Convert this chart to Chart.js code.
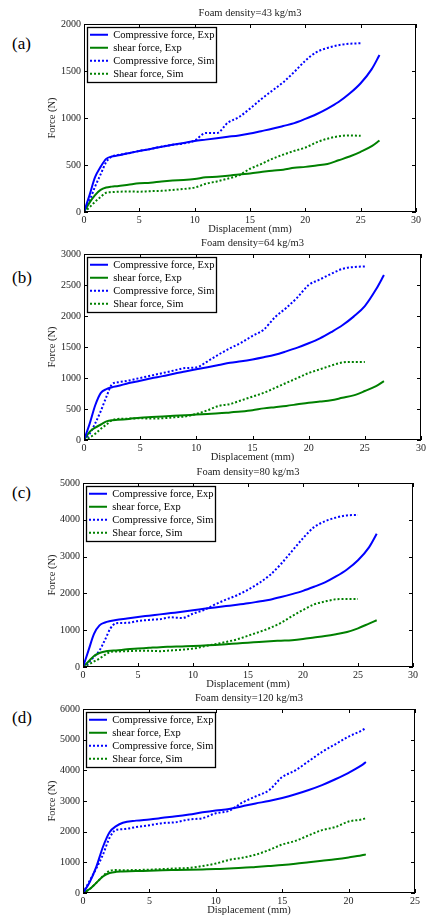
<!DOCTYPE html>
<html>
<head>
<meta charset="utf-8">
<script src="https://cdn.jsdelivr.net/npm/chart.js@4"></script>
<style>
body{margin:0;background:#fff;width:429px;height:916px;position:relative;overflow:hidden;font-family:"Liberation Serif",serif}
canvas{position:absolute;left:0}
.tag{position:absolute;left:12px;font-size:17px;line-height:20px;color:#000}
</style>
</head>
<body>
<div class="tag" style="top:34px">(a)</div>
<div class="tag" style="top:268px">(b)</div>
<div class="tag" style="top:483px">(c)</div>
<div class="tag" style="top:708px">(d)</div>
<canvas id="ca"></canvas>
<canvas id="cb"></canvas>
<canvas id="cc"></canvas>
<canvas id="cd"></canvas>
<script>
// displacement (mm) sample points
const dispExp = [0, 0.5, 1, 1.5, 2, 2.5, 3, 4, 5, 6, 7, 8, 9, 10, 11, 12, 13, 14, 15, 16, 17, 18, 19, 20, 21, 22, 23, 24, 25, 26, 26.7];
const dispSim = [0, 0.5, 1, 1.5, 2, 2.5, 3, 4, 5, 6, 7, 8, 9, 10, 11, 12, 13, 14, 15, 16, 17, 18, 19, 20, 21, 22, 23, 24, 25];
const dispD = [0, 0.5, 1, 1.5, 2, 2.5, 3, 4, 5, 6, 7, 8, 9, 10, 11, 12, 13, 14, 15, 16, 17, 18, 19, 20, 21, 21.3];

// (a) 43 kg/m3
const compExpA = [0, 180, 370, 480, 565, 590, 600, 625, 650, 670, 695, 715, 735, 755, 770, 785, 800, 815, 835, 860, 885, 915, 945, 990, 1040, 1100, 1170, 1260, 1370, 1520, 1670];
const shearExpA = [0, 100, 180, 235, 260, 270, 275, 290, 305, 310, 325, 335, 340, 350, 370, 375, 385, 400, 410, 425, 440, 450, 470, 480, 495, 510, 550, 590, 640, 700, 760];
const compSimA = [0, 120, 270, 400, 530, 590, 605, 625, 650, 670, 695, 715, 730, 760, 840, 840, 950, 1010, 1100, 1200, 1290, 1380, 1490, 1610, 1700, 1745, 1775, 1790, 1795];
const shearSimA = [0, 50, 110, 160, 205, 212, 215, 218, 216, 222, 225, 235, 245, 260, 300, 325, 355, 390, 460, 510, 565, 610, 650, 685, 740, 780, 805, 815, 810];

// (b) 64 kg/m3
const compExpB = [0, 260, 560, 760, 820, 850, 870, 920, 955, 995, 1030, 1070, 1105, 1140, 1175, 1210, 1245, 1270, 1300, 1335, 1375, 1430, 1490, 1560, 1640, 1740, 1850, 1990, 2160, 2430, 2660];
const shearExpB = [0, 130, 200, 250, 300, 320, 325, 340, 360, 370, 380, 390, 400, 410, 420, 430, 445, 460, 480, 510, 530, 550, 575, 600, 620, 640, 680, 720, 790, 870, 950];
const compSimB = [0, 100, 270, 470, 700, 900, 930, 960, 1000, 1040, 1080, 1120, 1160, 1170, 1270, 1380, 1480, 1570, 1680, 1780, 1980, 2130, 2300, 2500, 2590, 2680, 2760, 2790, 2800];
const shearSimB = [0, 40, 100, 180, 250, 320, 340, 345, 350, 345, 350, 365, 380, 420, 480, 550, 580, 640, 700, 760, 840, 920, 1000, 1080, 1140, 1200, 1250, 1260, 1260];

// (c) 80 kg/m3
const compExpC = [0, 450, 900, 1130, 1210, 1250, 1280, 1320, 1360, 1395, 1430, 1465, 1500, 1540, 1580, 1620, 1655, 1690, 1730, 1780, 1830, 1900, 1980, 2070, 2180, 2300, 2460, 2650, 2900, 3250, 3620];
const shearExpC = [0, 150, 300, 380, 420, 440, 450, 480, 500, 520, 540, 550, 560, 570, 585, 600, 620, 640, 660, 680, 700, 715, 730, 760, 800, 840, 890, 950, 1050, 1180, 1270];
const compSimC = [0, 120, 280, 450, 740, 1050, 1190, 1200, 1250, 1280, 1300, 1350, 1330, 1450, 1550, 1700, 1830, 1950, 2100, 2280, 2500, 2800, 3150, 3500, 3800, 3960, 4060, 4120, 4130];
const shearSimC = [0, 70, 150, 230, 330, 410, 420, 430, 440, 440, 430, 450, 470, 500, 560, 620, 680, 750, 850, 950, 1060, 1200, 1380, 1550, 1700, 1780, 1840, 1850, 1850];

// (d) 120 kg/m3
const compExpD = [0, 350, 850, 1500, 1980, 2180, 2290, 2360, 2400, 2450, 2500, 2560, 2630, 2690, 2740, 2830, 2920, 3000, 3100, 3220, 3360, 3520, 3710, 3920, 4170, 4270];
const shearExpD = [0, 130, 330, 540, 650, 690, 700, 715, 725, 740, 750, 760, 770, 780, 800, 820, 850, 880, 910, 950, 1000, 1050, 1100, 1160, 1230, 1260];
const compSimD = [0, 400, 800, 1250, 1800, 2060, 2080, 2150, 2210, 2280, 2310, 2400, 2440, 2600, 2680, 2950, 3150, 3350, 3780, 4000, 4300, 4600, 4850, 5100, 5300, 5380];
const shearSimD = [0, 130, 330, 550, 720, 750, 740, 750, 760, 780, 800, 820, 880, 960, 1080, 1150, 1250, 1400, 1580, 1700, 1880, 2050, 2150, 2330, 2400, 2440];

const seriesLabels = ['Compressive force, Exp', 'shear force, Exp', 'Compressive force, Sim', 'Shear force, Sim'];
const titles = ['Foam density=43 kg/m3', 'Foam density=64 kg/m3', 'Foam density=80 kg/m3', 'Foam density=120 kg/m3'];
const yMaxes = [2000, 3000, 5000, 6000];
const ySteps = [500, 500, 1000, 1000];
const xMaxes = [30, 30, 30, 25];

const FONT = '"Liberation Serif", "Times New Roman", serif';
const BLUE = '#0000ff';
const GREEN = '#008000';
const SAMPLE_W = 18;
const LEG_PAD = 2.5;

function pts(xs, ys){
    return xs.map((x, i) => ({x: x, y: ys[i]}));
}

// little line sample used as the legend "point style"
function lineSample(color, dash){
    const c = document.createElement('canvas');
    c.width = SAMPLE_W;
    c.height = 4;
    const g = c.getContext('2d');
    g.strokeStyle = color;
    g.lineWidth = 2;
    g.setLineDash(dash);
    g.beginPath();
    g.moveTo(0, 2);
    g.lineTo(SAMPLE_W, 2);
    g.stroke();
    return c;
}

// plot box in page pixels: left, right, top, bottom
const panels = [
    {id: 'ca', box: [84, 416, 24, 212], exp: dispExp, sim: dispSim, data: [compExpA, shearExpA, compSimA, shearSimA]},
    {id: 'cb', box: [84, 421, 254, 440], exp: dispExp, sim: dispSim, data: [compExpB, shearExpB, compSimB, shearSimB]},
    {id: 'cc', box: [83, 413, 483, 667], exp: dispExp, sim: dispSim, data: [compExpC, shearExpC, compSimC, shearSimC]},
    {id: 'cd', box: [83, 415, 709, 893], exp: dispD, sim: dispD, data: [compExpD, shearExpD, compSimD, shearSimD]}
];

const framePlugin = {
    id: 'frame',
    afterLayout(chart){
        // put the legend just inside the top-left corner of the plot
        const a = chart.chartArea, lg = chart.legend;
        lg.left = a.left + 3.5;
        lg.top = a.top + 3;
        lg.right = a.right;
        lg.bottom = a.bottom;
    },
    afterDraw(chart){
        const ctx = chart.ctx;
        const a = chart.chartArea;
        const sx = chart.scales.x, sy = chart.scales.y;
        ctx.save();
        ctx.strokeStyle = '#000';
        ctx.lineWidth = 1;
        ctx.beginPath();
        sx.ticks.forEach(t => {
            const px = Math.round(sx.getPixelForValue(t.value)) + 0.5;
            ctx.moveTo(px, a.bottom); ctx.lineTo(px, a.bottom - 4);
            ctx.moveTo(px, a.top); ctx.lineTo(px, a.top + 4);
        });
        sy.ticks.forEach(t => {
            const py = Math.round(sy.getPixelForValue(t.value)) + 0.5;
            ctx.moveTo(a.left, py); ctx.lineTo(a.left + 4, py);
            ctx.moveTo(a.right, py); ctx.lineTo(a.right - 4, py);
        });
        ctx.stroke();
        ctx.strokeRect(Math.round(a.left) + 0.5, Math.round(a.top) + 0.5, Math.round(a.width) - 1, Math.round(a.height) - 1);

        // legend frame
        const lg = chart.legend;
        const hb = lg.legendHitBoxes;
        const maxW = Math.max(...hb.map(h => h.width));
        const l = Math.round(a.left) + 3.5, t = Math.round(a.top) + 3.5;
        const r = lg.left + LEG_PAD + maxW + 2;
        const b = lg.top + LEG_PAD + hb.length * (hb[0].height + LEG_PAD) + 1;
        ctx.lineWidth = 1.3;
        ctx.strokeRect(l, t, Math.round(r - l), Math.round(b - t));
        ctx.restore();
    }
};

panels.forEach((p, k) => {
    const [left, right, top, bottom] = p.box;
    const cv = document.getElementById(p.id);
    cv.width = 429;
    cv.height = bottom - top + 48;
    cv.style.top = (top - 24) + 'px';

    const tickFont = {family: FONT, size: 10};
    const labFont = {family: FONT, size: 10.5};

    new Chart(cv, {
        type: 'line',
        data: {
            datasets: [
                {label: seriesLabels[0], data: pts(p.exp, p.data[0]), borderColor: BLUE, borderWidth: 2, pointStyle: lineSample(BLUE, [])},
                {label: seriesLabels[1], data: pts(p.exp, p.data[1]), borderColor: GREEN, borderWidth: 2, pointStyle: lineSample(GREEN, [])},
                {label: seriesLabels[2], data: pts(p.sim, p.data[2]), borderColor: BLUE, borderWidth: 2, borderDash: [2, 2], pointStyle: lineSample(BLUE, [2, 2])},
                {label: seriesLabels[3], data: pts(p.sim, p.data[3]), borderColor: GREEN, borderWidth: 2, borderDash: [2, 2], pointStyle: lineSample(GREEN, [2, 2])}
            ]
        },
        options: {
            responsive: false,
            animation: false,
            events: [],
            elements: {point: {radius: 0}, line: {cubicInterpolationMode: 'monotone'}},
            layout: {padding: {left: 0, right: 429 - right, top: 0, bottom: 0}},
            scales: {
                x: {
                    type: 'linear', min: 0, max: xMaxes[k],
                    ticks: {stepSize: 5, padding: 2, font: tickFont, color: '#222', maxRotation: 0, callback: v => String(v)},
                    grid: {display: false, drawTicks: false},
                    border: {display: false},
                    title: {display: true, text: 'Displacement (mm)', font: labFont, color: '#222', padding: {top: 0, bottom: 0}},
                    afterFit(s){ s.height = 24; }
                },
                y: {
                    type: 'linear', min: 0, max: yMaxes[k],
                    ticks: {stepSize: ySteps[k], padding: 3, font: tickFont, color: '#222', callback: v => String(v)},
                    grid: {display: false, drawTicks: false},
                    border: {display: false},
                    title: {display: true, text: 'Force (N)', font: labFont, color: '#222', padding: {top: 46, bottom: 0}},
                    afterFit(s){ s.width = left; }
                }
            },
            plugins: {
                title: {
                    display: true, text: titles[k], fullSize: false, color: '#222',
                    font: {family: FONT, size: 10.5, weight: 'normal', lineHeight: 1},
                    padding: {top: 7.5, bottom: 6}
                },
                legend: {
                    position: 'chartArea', align: 'start',
                    labels: {usePointStyle: true, pointStyleWidth: SAMPLE_W, padding: LEG_PAD, color: '#000', font: labFont}
                },
                tooltip: {enabled: false}
            }
        },
        plugins: [framePlugin]
    });
});
</script>
</body>
</html>
